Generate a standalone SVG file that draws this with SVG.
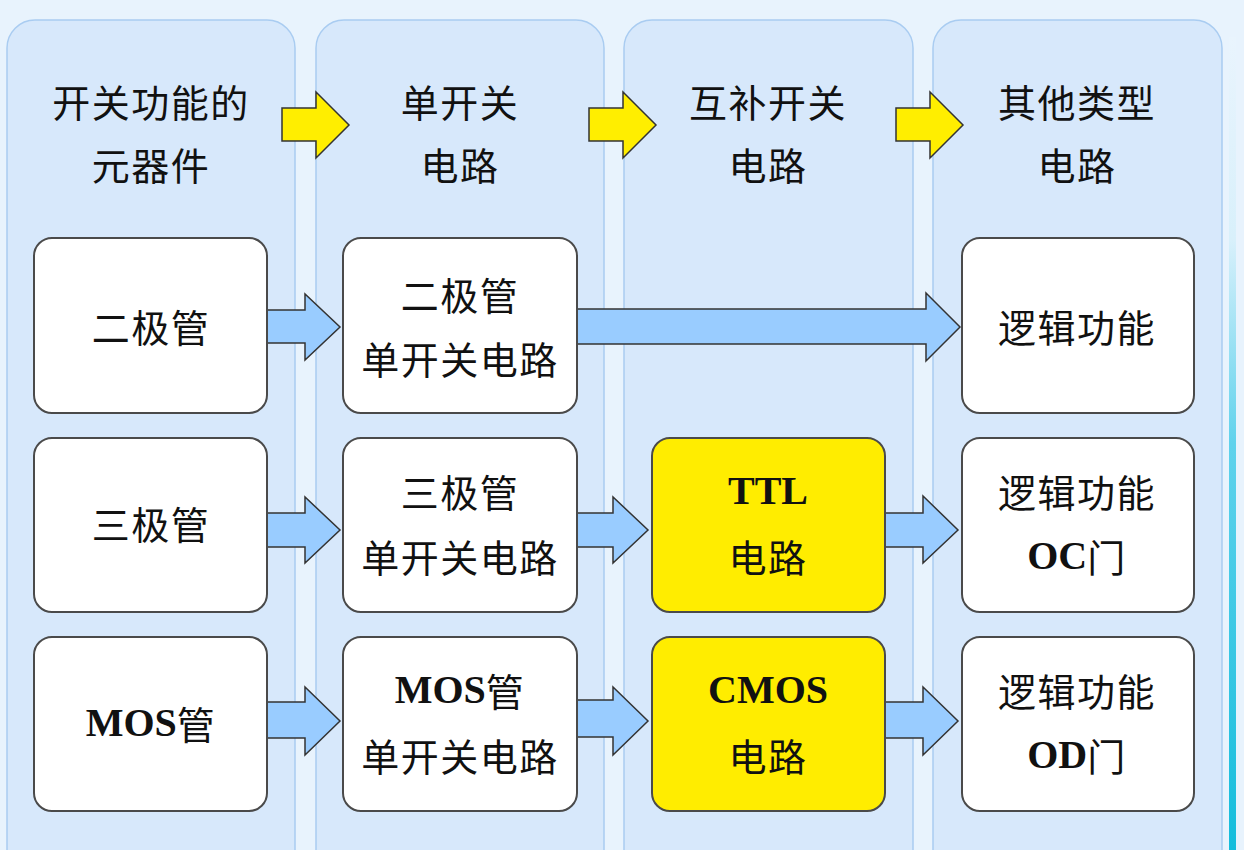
<svg xmlns="http://www.w3.org/2000/svg" width="1244" height="850" viewBox="0 0 1244 850">
<defs>
<linearGradient id="side" x1="0" y1="0" x2="0" y2="1">
<stop offset="0" stop-color="#e9f4fd"/>
<stop offset="0.25" stop-color="#d8f0fb"/>
<stop offset="0.5" stop-color="#5fd2ec"/>
<stop offset="1" stop-color="#14bddc"/>
</linearGradient>
<style>
.col{fill:#d7e8fb;stroke:#a9ccf1;stroke-width:1.5}
.node{fill:#ffffff;stroke:#4a4a4a;stroke-width:2}
.ynode{fill:#ffed00;stroke:#4a4a4a;stroke-width:2}
.barrow{fill:#99ccff;stroke:#333;stroke-width:1.5;stroke-linejoin:miter}
.yarrow{fill:#ffee00;stroke:#333;stroke-width:1.5}
.t{font-family:"Noto Sans CJK SC","Liberation Sans",sans-serif;font-size:38px;fill:#111;text-anchor:middle;dominant-baseline:central;letter-spacing:1.5px}
.b{font-family:"Liberation Serif",serif;font-weight:bold;font-size:40px;letter-spacing:0}
</style>
</defs>
<rect width="1244" height="850" fill="#e8f3fd"/>
<rect x="1229" y="37" width="7" height="813" fill="url(#side)"/>
<g id="columns">
<rect class="col" x="7" y="20" width="288" height="860" rx="28"/>
<rect class="col" x="316" y="20" width="288" height="860" rx="28"/>
<rect class="col" x="624" y="20" width="289" height="860" rx="28"/>
<rect class="col" x="933" y="20" width="289" height="860" rx="28"/>
</g>
<g id="headers">
<text class="t" x="151" y="100">开关功能的</text>
<text class="t" x="151" y="163">元器件</text>
<text class="t" x="460" y="100">单开关</text>
<text class="t" x="460" y="163">电路</text>
<text class="t" x="768" y="100">互补开关</text>
<text class="t" x="768" y="163">电路</text>
<text class="t" x="1077" y="100">其他类型</text>
<text class="t" x="1077" y="163">电路</text>
</g>
<g id="connectors">
<path class="yarrow" d="M282,108 H316 V92 L349,125 L316,158 V141 H282 Z"/>
<path class="yarrow" d="M589,108 H623 V92 L656,125 L623,158 V141 H589 Z"/>
<path class="yarrow" d="M896,108 H930 V92 L963,125 L930,158 V141 H896 Z"/>
<path class="barrow" d="M267,310 H305 V294 L340,327 L305,360 V343 H267 Z"/>
<path class="barrow" d="M574,309 H926 V293 L960,327 L926,361 V344 H574 Z"/>
<path class="barrow" d="M267,513 H305 V497 L340,530 L305,563 V547 H267 Z"/>
<path class="barrow" d="M576,513 H613 V497 L648,530 L613,563 V547 H576 Z"/>
<path class="barrow" d="M885,513 H923 V496 L958,530 L923,563 V547 H885 Z"/>
<path class="barrow" d="M267,702 H305 V687 L340,721 L305,755 V738 H267 Z"/>
<path class="barrow" d="M576,700 H613 V687 L648,721 L613,755 V737 H576 Z"/>
<path class="barrow" d="M885,702 H923 V687 L958,721 L923,755 V738 H885 Z"/>
</g>
<g id="n-diode">
<rect class="node" x="34" y="238" width="233" height="175" rx="18"/>
<text class="t" x="151" y="325">二极管</text>
</g>
<g id="n-diode-sw">
<rect class="node" x="343" y="238" width="234" height="175" rx="18"/>
<text class="t" x="460" y="293">二极管</text>
<text class="t" x="460" y="357">单开关电路</text>
</g>
<g id="n-logic1">
<rect class="node" x="962" y="238" width="232" height="175" rx="18"/>
<text class="t" x="1077" y="325">逻辑功能</text>
</g>
<g id="n-bjt">
<rect class="node" x="34" y="438" width="233" height="174" rx="18"/>
<text class="t" x="151" y="522">三极管</text>
</g>
<g id="n-bjt-sw">
<rect class="node" x="343" y="438" width="234" height="174" rx="18"/>
<text class="t" x="460" y="490">三极管</text>
<text class="t" x="460" y="555">单开关电路</text>
</g>
<g id="n-ttl">
<rect class="ynode" x="652" y="438" width="233" height="174" rx="18"/>
<text class="t" x="768" y="490"><tspan class="b">TTL</tspan></text>
<text class="t" x="768" y="555">电路</text>
</g>
<g id="n-oc">
<rect class="node" x="962" y="438" width="232" height="174" rx="18"/>
<text class="t" x="1077" y="490">逻辑功能</text>
<text class="t" x="1077" y="555"><tspan class="b">OC</tspan>门</text>
</g>
<g id="n-mos">
<rect class="node" x="34" y="637" width="233" height="174" rx="18"/>
<text class="t" x="151" y="722"><tspan class="b">MOS</tspan>管</text>
</g>
<g id="n-mos-sw">
<rect class="node" x="343" y="637" width="234" height="174" rx="18"/>
<text class="t" x="460" y="689"><tspan class="b">MOS</tspan>管</text>
<text class="t" x="460" y="754">单开关电路</text>
</g>
<g id="n-cmos">
<rect class="ynode" x="652" y="637" width="233" height="174" rx="18"/>
<text class="t" x="768" y="689"><tspan class="b">CMOS</tspan></text>
<text class="t" x="768" y="754">电路</text>
</g>
<g id="n-od">
<rect class="node" x="962" y="637" width="232" height="174" rx="18"/>
<text class="t" x="1077" y="689">逻辑功能</text>
<text class="t" x="1077" y="754"><tspan class="b">OD</tspan>门</text>
</g>
</svg>
